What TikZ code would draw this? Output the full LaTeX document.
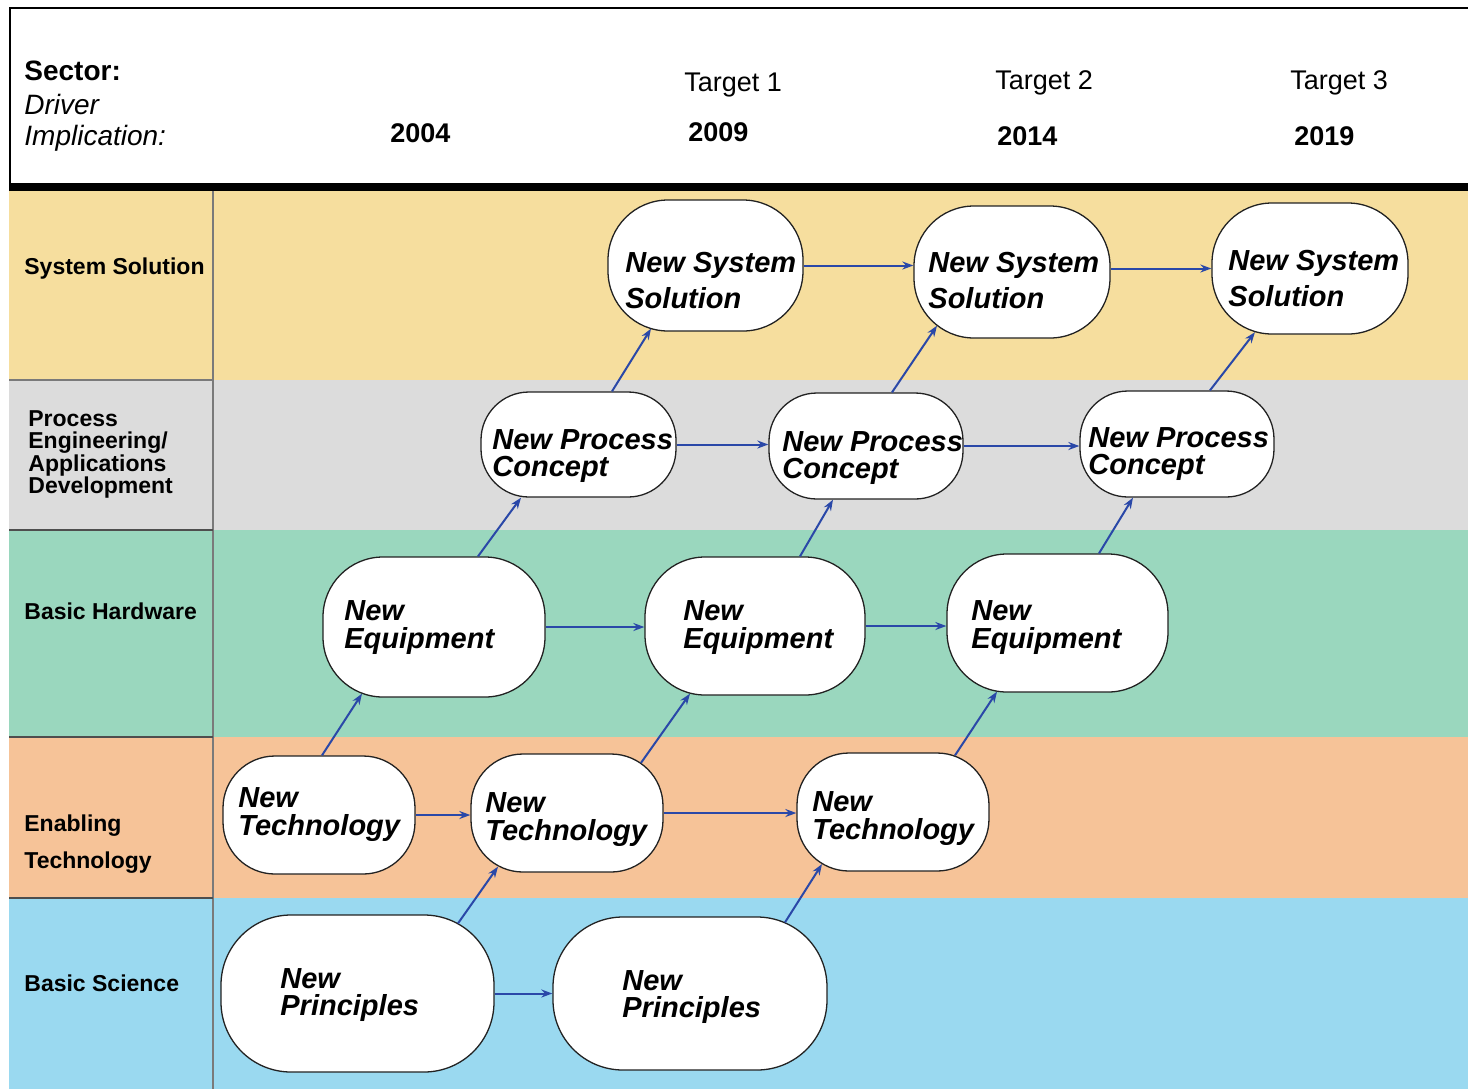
\documentclass[tikz,border=0pt]{standalone}
\usepackage{fontspec}
\setmainfont{Liberation Sans}
\usetikzlibrary{arrows.meta}
\definecolor{cTan}{HTML}{F6DE9E}
\definecolor{cGray}{HTML}{DCDCDC}
\definecolor{cGreen}{HTML}{9AD7BE}
\definecolor{cPeach}{HTML}{F6C398}
\definecolor{cBlue}{HTML}{9AD9F0}
\definecolor{cArrow}{HTML}{2A48A8}
\definecolor{cEdge}{HTML}{222222}
\definecolor{cDiv}{HTML}{7A7A7A}
\begin{document}
\begin{tikzpicture}[x=0.5pt,y=-0.5pt,
  blob/.style={draw=cEdge, line width=0.65pt, fill=white, inner sep=0pt},
  ntext/.style={inner sep=0pt, align=left, anchor=base west,
    font=\fontsize{14.5}{#1}\selectfont\bfseries\itshape},
  ntext/.default=14,
  hdr/.style={inner sep=0pt, anchor=base west, font=\fontsize{13.5}{16}\selectfont},
  lbl/.style={inner sep=0pt, align=left, anchor=base west,
    font=\fontsize{11.5}{#1}\selectfont\bfseries},
  lbl/.default=13,
  flow/.style={draw=cArrow, line width=1pt, -{Stealth[length=5.5pt,width=4pt]}}
]
\useasboundingbox (0,0) rectangle (1468,1089);
% bands
\fill[cTan]   (9,191) rectangle (1468,380);
\fill[cGray]  (9,380) rectangle (1468,530);
\fill[cGreen] (9,530) rectangle (1468,737);
\fill[cPeach] (9,737) rectangle (1468,898);
\fill[cBlue]  (9,898) rectangle (1468,1089);
% left column dividers
\draw[cDiv, line width=1pt] (213,191) -- (213,1089);
\draw[cDiv, line width=0.8pt] (9,380) -- (213,380);
\draw[cEdge!80, line width=0.8pt] (9,530) -- (213,530);
\draw[cEdge!80, line width=0.8pt] (9,737) -- (213,737);
\draw[cEdge!80, line width=0.8pt] (9,898) -- (213,898);
% header frame
\draw[black, line width=1pt] (1468,8) -- (10,8) -- (10,186);
\fill[black] (9,183) rectangle (1468,191);
% header texts
\node[hdr, font=\fontsize{14}{16}\selectfont\bfseries] (sector) at (24,80) {Sector:};
\node[hdr, font=\fontsize{14}{16}\selectfont\itshape] (driver) at (24,114) {Driver};
\node[hdr, font=\fontsize{14}{16}\selectfont\itshape] (impl) at (24,145) {Implication:};
\node[hdr, font=\fontsize{13.5}{16}\selectfont\bfseries] (y2004) at (390,142) {2004};
\node[hdr] (t1) at (684,91) {Target 1};
\node[hdr, font=\fontsize{13.5}{16}\selectfont\bfseries] (y2009) at (688,141) {2009};
\node[hdr] (t2) at (995,89) {Target 2};
\node[hdr, font=\fontsize{13.5}{16}\selectfont\bfseries] (y2014) at (997,145) {2014};
\node[hdr] (t3) at (1290,89) {Target 3};
\node[hdr, font=\fontsize{13.5}{16}\selectfont\bfseries] (y2019) at (1294,145) {2019};
% left labels
\node[lbl] (lss) at (24,274) {System Solution};
\node[lbl=11.25] (lpe) at (28,493.5) {Process\\Engineering/\\Applications\\Development};
\node[lbl] (lbh) at (24,619) {Basic Hardware};
\node[lbl=18.5] (let) at (24,868) {Enabling\\Technology};
\node[lbl] (lbs) at (24,991) {Basic Science};
% shapes
\node[blob, minimum width=97.5pt, minimum height=65.5pt, rounded corners=30pt] (SS1) at (705.5,265.5) {};
\node[blob, minimum width=98pt, minimum height=66pt, rounded corners=30pt] (SS2) at (1012,272) {};
\node[blob, minimum width=98pt, minimum height=65.5pt, rounded corners=30pt] (SS3) at (1310,268.5) {};
\node[blob, minimum width=97.5pt, minimum height=52.5pt, rounded corners=24pt] (PC1) at (578.5,444.5) {};
\node[blob, minimum width=97pt, minimum height=53pt, rounded corners=24pt] (PC2) at (866,446) {};
\node[blob, minimum width=97pt, minimum height=53pt, rounded corners=24pt] (PC3) at (1177,444) {};
\node[blob, minimum width=111pt, minimum height=70pt, rounded corners=30pt] (EQ1) at (434,627) {};
\node[blob, minimum width=110pt, minimum height=69pt, rounded corners=30pt] (EQ2) at (755,626) {};
\node[blob, minimum width=110.5pt, minimum height=69pt, rounded corners=30pt] (EQ3) at (1057.5,623) {};
\node[blob, minimum width=96pt, minimum height=59pt, rounded corners=26pt] (T1) at (319,815) {};
\node[blob, minimum width=96pt, minimum height=59pt, rounded corners=26pt] (T2) at (567,813) {};
\node[blob, minimum width=96pt, minimum height=59pt, rounded corners=26pt] (T3) at (893,812) {};
\node[blob, minimum width=136.5pt, minimum height=78.5pt, rounded corners=35pt] (P1) at (357.5,993.5) {};
\node[blob, minimum width=137pt, minimum height=76.5pt, rounded corners=35pt] (P2) at (690,993.5) {};
% texts in shapes (anchored at the baseline of the last line)
\node[ntext=18] (SS1t) at (625,308) {New System\\Solution};
\node[ntext=18] (SS2t) at (928,308) {New System\\Solution};
\node[ntext=18] (SS3t) at (1228,306) {New System\\Solution};
\node[ntext=13.5] (PC1t) at (492,476) {New Process\\Concept};
\node[ntext=13.5] (PC2t) at (782,478) {New Process\\Concept};
\node[ntext=13.5] (PC3t) at (1088,474) {New Process\\Concept};
\node[ntext] (EQ1t) at (344,648) {New\\Equipment};
\node[ntext] (EQ2t) at (683,648) {New\\Equipment};
\node[ntext] (EQ3t) at (971,648) {New\\Equipment};
\node[ntext] (T1t) at (238,835) {New\\Technology};
\node[ntext] (T2t) at (485,840) {New\\Technology};
\node[ntext] (T3t) at (812,839) {New\\Technology};
\node[ntext=13.5] (P1t) at (280,1015) {New\\Principles};
\node[ntext=13.5] (P2t) at (622,1017) {New\\Principles};
% horizontal flows
\draw[flow] (SS1.east) -- (SS1.east -| SS2.west);
\draw[flow] (SS3.west -| SS2.east) -- (SS3.west);
\draw[flow] (PC1.east) -- (PC1.east -| PC2.west);
\draw[flow] (PC2.east) -- (PC2.east -| PC3.west);
\draw[flow] (EQ1.east) -- (EQ1.east -| EQ2.west);
\draw[flow] (EQ2.east) -- (EQ2.east -| EQ3.west);
\draw[flow] (T1.east) -- (T1.east -| T2.west);
\draw[flow] (T2.east) -- (T2.east -| T3.west);
\draw[flow] (P1.east) -- (P1.east -| P2.west);
% diagonal flows
\draw[flow] ([xshift=1.5pt]T1.north) -- ([xshift=-36pt,yshift=2pt]EQ1.south);
\draw[flow] ([xshift=22pt]EQ1.north) -- ([xshift=-28.75pt]PC1.south);
\draw[flow] ([xshift=16.75pt]PC1.north) -- ([xshift=-27.25pt,yshift=1.5pt]SS1.south);
\draw[flow] ([xshift=50.25pt,yshift=-4.5pt]P1.north) -- ([xshift=-34.5pt,yshift=3pt]T2.south);
\draw[flow] ([xshift=37pt,yshift=-4.75pt]T2.north) -- ([xshift=-32.5pt,yshift=1pt]EQ2.south);
\draw[flow] ([xshift=22.5pt]EQ2.north) -- ([xshift=-16.5pt]PC2.south);
\draw[flow] ([xshift=13pt]PC2.north) -- ([xshift=-37.5pt,yshift=6.5pt]SS2.south);
\draw[flow] ([xshift=47.5pt,yshift=-3pt]P2.north) -- ([xshift=-35.5pt,yshift=3.8pt]T3.south);
\draw[flow] ([xshift=31pt,yshift=-1.5pt]T3.north) -- ([xshift=-30.25pt,yshift=0.5pt]EQ3.south);
\draw[flow] ([xshift=20.75pt]EQ3.north) -- ([xshift=-22pt]PC3.south);
\draw[flow] ([xshift=16.5pt]PC3.north) -- ([xshift=-27.5pt,yshift=1.25pt]SS3.south);
\end{tikzpicture}
\end{document}
